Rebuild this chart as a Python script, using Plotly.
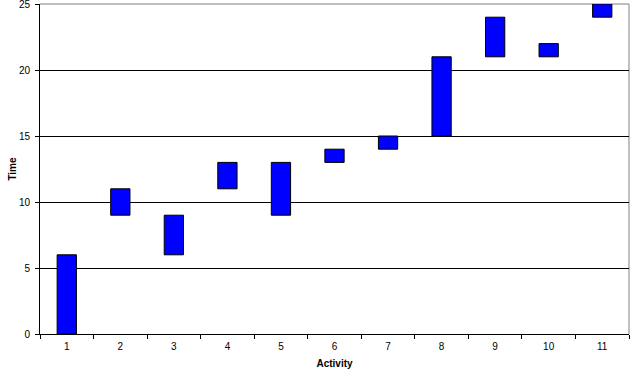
import plotly.graph_objects as go

activities = ["1", "2", "3", "4", "5", "6", "7", "8", "9", "10", "11"]
start = [0, 9, 6, 11, 9, 13, 14, 15, 21, 21, 24]
end = [6, 11, 9, 13, 13, 14, 15, 21, 24, 22, 25]
duration = [e - s for s, e in zip(start, end)]
y_ticks = [0, 5, 10, 15, 20, 25]

fig = go.Figure(go.Bar(
    x=activities, y=duration, base=start, width=0.36,
    marker=dict(color="#0000FF", line=dict(color="black", width=1)),
))

font = dict(family="Liberation Sans, Arial, sans-serif", size=10, color="black")
fig.update_layout(
    width=637, height=372,
    margin=dict(l=40, r=8, t=4, b=38),
    plot_bgcolor="white", paper_bgcolor="white",
    showlegend=False, font=font,
    xaxis=dict(
        type="category", tickson="boundaries", ticks="outside", ticklen=4,
        tickcolor="black", showline=True, linecolor="black", linewidth=1,
        showgrid=False, tickfont=font, ticklabelstandoff=3, automargin=False,
        title=dict(text="<b>Activity</b>", font=dict(family=font["family"], size=10), standoff=8),
    ),
    yaxis=dict(
        range=[0, 25], tickvals=y_ticks, ticks="outside", ticklen=4,
        tickcolor="black", showline=True, linecolor="black", linewidth=1,
        showgrid=True, gridcolor="black", gridwidth=1, zeroline=False,
        tickfont=font, ticklabeloverflow="allow", ticklabelstandoff=3, automargin=False,
        title=dict(text="<b>Time</b>", font=dict(family=font["family"], size=10), standoff=0),
    ),
    shapes=[
        dict(type="line", xref="paper", yref="paper", x0=0, x1=1, y0=1, y1=1,
             line=dict(color="#808080", width=1), layer="between"),
        dict(type="line", xref="paper", yref="paper", x0=1, x1=1, y0=0, y1=1,
             line=dict(color="#808080", width=1), layer="between"),
    ],
)

fig.write_html(
    "out.html",
    config={"displayModeBar": False},
    post_script="document.body.style.margin='0';document.body.style.overflow='hidden';",
)
